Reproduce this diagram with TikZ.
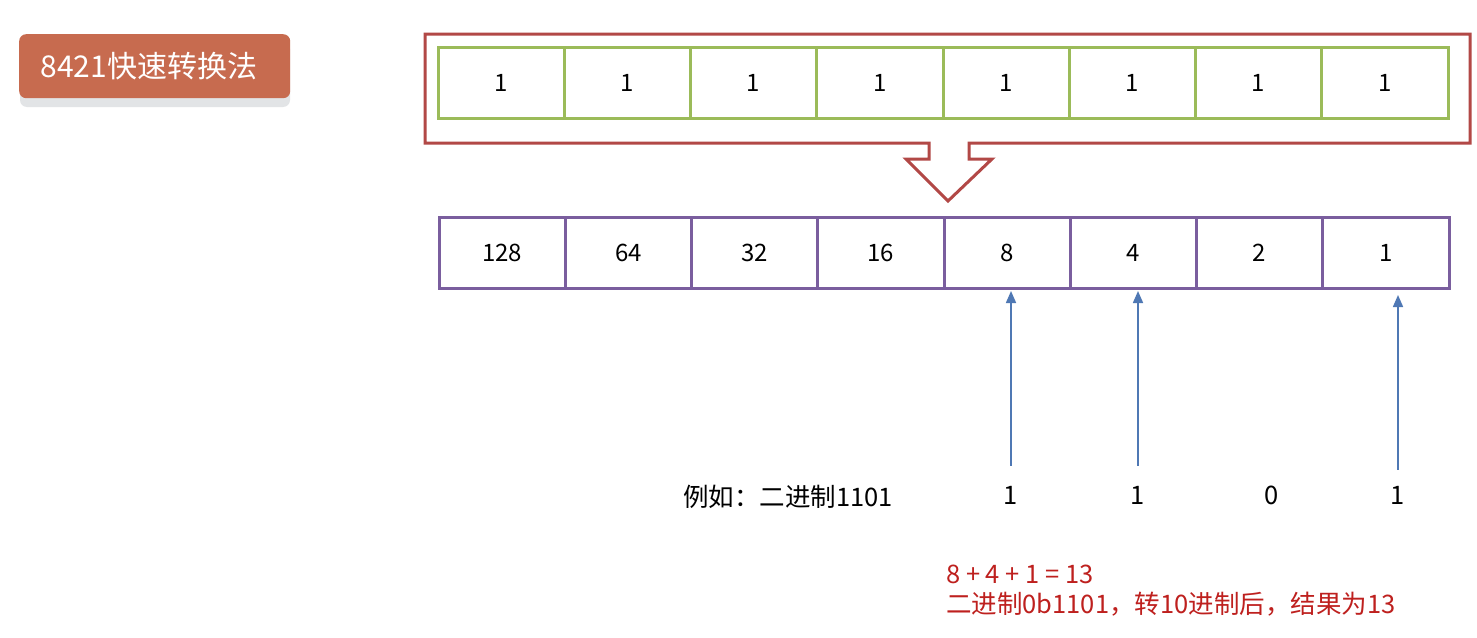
\documentclass[tikz,border=0pt]{standalone}
\usepackage{fontspec}
\setmainfont{Noto Sans CJK SC}
\usetikzlibrary{arrows.meta}
\definecolor{titlebg}{RGB}{199,107,79}
\definecolor{shadowc}{RGB}{226,228,230}
\definecolor{outred}{RGB}{178,72,70}
\definecolor{cellgreen}{RGB}{155,187,89}
\definecolor{cellpurple}{RGB}{122,94,158}
\definecolor{arrowblue}{RGB}{79,120,180}
\definecolor{txtred}{RGB}{190,32,30}
\tikzset{
  cellbox/.style={draw=#1, line width=3pt, minimum width=126.25pt, minimum height=71pt, inner sep=0pt, outer sep=0pt, font=\fontsize{24}{28}\selectfont, anchor=west},
  bitlbl/.style={font=\fontsize{25.5}{30}\selectfont, inner sep=0pt},
  upar/.style={draw=arrowblue, line width=1.6pt, -{Triangle[length=12pt,width=10pt]}},
}
\begin{document}
\begin{tikzpicture}[x=1pt,y=-1pt]
\useasboundingbox[fill=white] (0,0) rectangle (1477,637);
% title
\fill[shadowc, rounded corners=7pt] (20,42) rectangle (290,107);
\node[fill=titlebg, rounded corners=7pt, minimum width=271pt, minimum height=64pt, inner sep=0pt, text=white, font=\fontsize{30}{34}\selectfont, anchor=north west] (title) at (19,34) {8421快速转换法\kern12pt};
% outer red arrow shape
\draw[outred, line width=3pt, line join=miter] (425,34) -- (1470,34) -- (1470,143) -- (969,143) -- (969,159) -- (992,159) -- (948,201) -- (906,159) -- (929,159) -- (929,143) -- (425,143) -- cycle;
% green row
\foreach \i in {1,...,8}{
  \node[cellbox=cellgreen] (g\i) at ({438+(\i-1)*126.25},82.5) {1};
}
% purple row
\foreach \v [count=\i] in {128,64,32,16,8,4,2,1}{
  \node[cellbox=cellpurple] (p\i) at ({439+(\i-1)*126.25},252.5) {\v};
}
% example text
\node[bitlbl, anchor=west] (ex) at (683,497) {例如：二进制1101};
\node[bitlbl] (b5) at (1011,495) {1};
\node[bitlbl] (b6) at (1138,495) {1};
\node[bitlbl] (b7) at (1272,495) {0};
\node[bitlbl] (b8) at (1398,495) {1};
\draw[upar] ([yshift=20pt]b5.north) -- ([yshift=-3pt]b5.north |- p5.south);
\draw[upar] ([yshift=20pt]b6.north) -- ([yshift=-3pt]b6.north |- p6.south);
\draw[upar] ([yshift=16pt]b8.north) -- ([yshift=-7pt]b8.north |- p8.south);
% result text
\node[font=\fontsize{25.5}{30}\selectfont, text=txtred, anchor=north west, align=left, inner sep=0pt] (res) at (946,565) {8 + 4 + 1 = 13\\二进制0b1101，转10进制后，结果为13};
\end{tikzpicture}
\end{document}
